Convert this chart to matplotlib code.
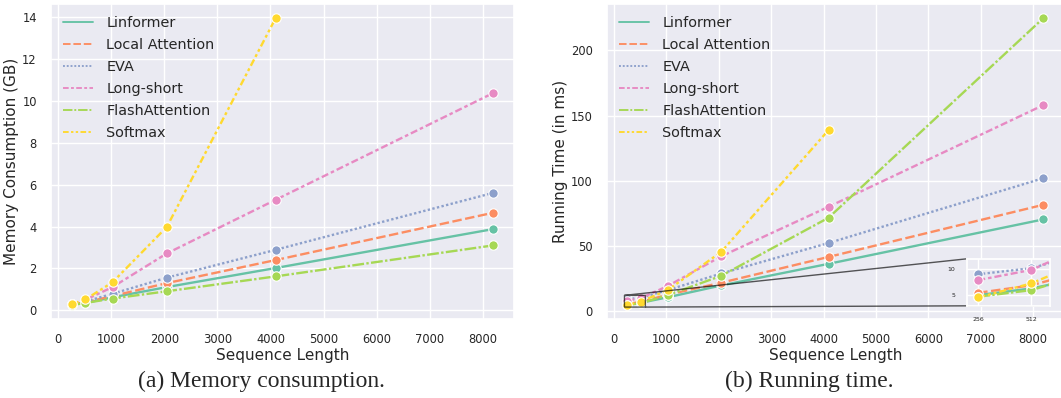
import matplotlib
matplotlib.use("Agg")
import matplotlib.pyplot as plt
from matplotlib.lines import Line2D
import seaborn as sns

sns.set_theme(style="darkgrid")
plt.rcParams['font.family'] = ['DejaVu Sans']

# ---------------- data ----------------
seq_len = [256, 512, 1024, 2048, 4096, 8192]
methods = ["Linformer", "Local Attention", "EVA", "Long-short", "FlashAttention", "Softmax"]

mem_linformer = [0.28, 0.35, 0.62, 1.11, 2.02, 3.88]
mem_local = [0.28, 0.38, 0.68, 1.30, 2.40, 4.66]
mem_eva = [0.28, 0.42, 0.79, 1.56, 2.89, 5.61]
mem_longshort = [0.28, 0.50, 1.11, 2.72, 5.28, 10.38]
mem_flash = [0.25, 0.35, 0.56, 0.91, 1.62, 3.10]
mem_softmax = [0.29, 0.52, 1.34, 3.99, 13.96]

time_linformer = [5.0, 6.3, 10.5, 19.6, 36.2, 70.3]
time_local = [5.45, 6.9, 12.5, 21.7, 41.5, 81.5]
time_eva = [9.03, 10.2, 16.0, 28.8, 52.2, 101.9]
time_longshort = [7.9, 9.87, 19.1, 42.0, 80.0, 158.0]
time_flash = [4.7, 5.97, 12.2, 27.0, 71.6, 224.7]
time_softmax = [4.55, 7.27, 16.0, 45.4, 138.9]

mem_data = [mem_linformer, mem_local, mem_eva, mem_longshort, mem_flash, mem_softmax]
time_data = [time_linformer, time_local, time_eva, time_longshort, time_flash, time_softmax]

xticks_main = [0, 1000, 2000, 3000, 4000, 5000, 6000, 7000, 8000]
mem_yticks = [0, 2, 4, 6, 8, 10, 12, 14]
time_yticks = [0, 50, 100, 150, 200]
inset_xticks = [256, 512]
inset_yticks = [5, 10]

captions = ["(a) Memory consumption.", "(b) Running time."]
ylabels = ["Memory Consumption (GB)", "Running Time (in ms)"]
xlabel = "Sequence Length"

# ---------------- style ----------------
colors = sns.color_palette("Set2", 6)
dashes = ["", (4, 1.5), (1, 1), (3, 1.25, 1.5, 1.25), (5, 1, 1, 1),
          (3, 1.25, 1.25, 1.25, 1.25, 1.25)]
LW = 1.7
MS = 6.8


def draw(ax, data, ms=MS):
    for vals, c, d in zip(data, colors, dashes):
        xs = seq_len[:len(vals)]
        if d == "":
            ax.plot(xs, vals, color=c, lw=LW, ls="-", marker="o", ms=ms,
                    mec="w", mew=0.8)
        else:
            ax.plot(xs, vals, color=c, lw=LW, dashes=d, marker="o", ms=ms,
                    mec="w", mew=0.8)


fig = plt.figure(figsize=(10.61, 3.98), dpi=100)
ax1 = fig.add_axes([0.0478, 0.1975, 0.4366, 0.7925])
ax2 = fig.add_axes([0.5717, 0.1975, 0.4311, 0.7925])

for ax, data, yl, yt in [(ax1, mem_data, ylabels[0], mem_yticks),
                         (ax2, time_data, ylabels[1], time_yticks)]:
    draw(ax, data)
    ax.set_xticks(xticks_main)
    ax.set_yticks(yt)
    ax.tick_params(labelsize=8.3, pad=4)
    ax.set_xlabel(xlabel, fontsize=11, labelpad=1)
    ax.set_ylabel(yl, fontsize=11, labelpad=2)
    handles = []
    for c, d in zip(colors, dashes):
        if d == "":
            handles.append(Line2D([], [], color=c, lw=LW * 0.8, ls="-"))
        else:
            handles.append(Line2D([], [], color=c, lw=LW * 0.8, dashes=d))
    ax.legend(handles, methods, loc="upper left", frameon=False, fontsize=10.4,
              borderaxespad=0.45, labelspacing=0.55, handletextpad=0.9,
              handlelength=2.1)

ax1.set_xlim(-141, 8589)
ax2.set_xlim(-141, 8589)

# inset on running time
axins = ax2.inset_axes([0.787, 0.044, 0.182, 0.148])
draw(axins, time_data, ms=MS)
axins.set_xlim(200, 600)
axins.set_ylim(3, 12)
axins.set_xticks(inset_xticks)
axins.set_yticks(inset_yticks)
axins.tick_params(labelsize=4.5, pad=2)
ind = ax2.indicate_inset_zoom(axins, edgecolor="black", alpha=0.65, linewidth=1.0)

for txt, xc in zip(captions, [0.246, 0.763]):
    fig.text(xc, 0.041, txt, ha="center", va="center", fontsize=17,
             family=["Liberation Serif", "DejaVu Serif"])

fig.savefig("out.png", dpi=100)
